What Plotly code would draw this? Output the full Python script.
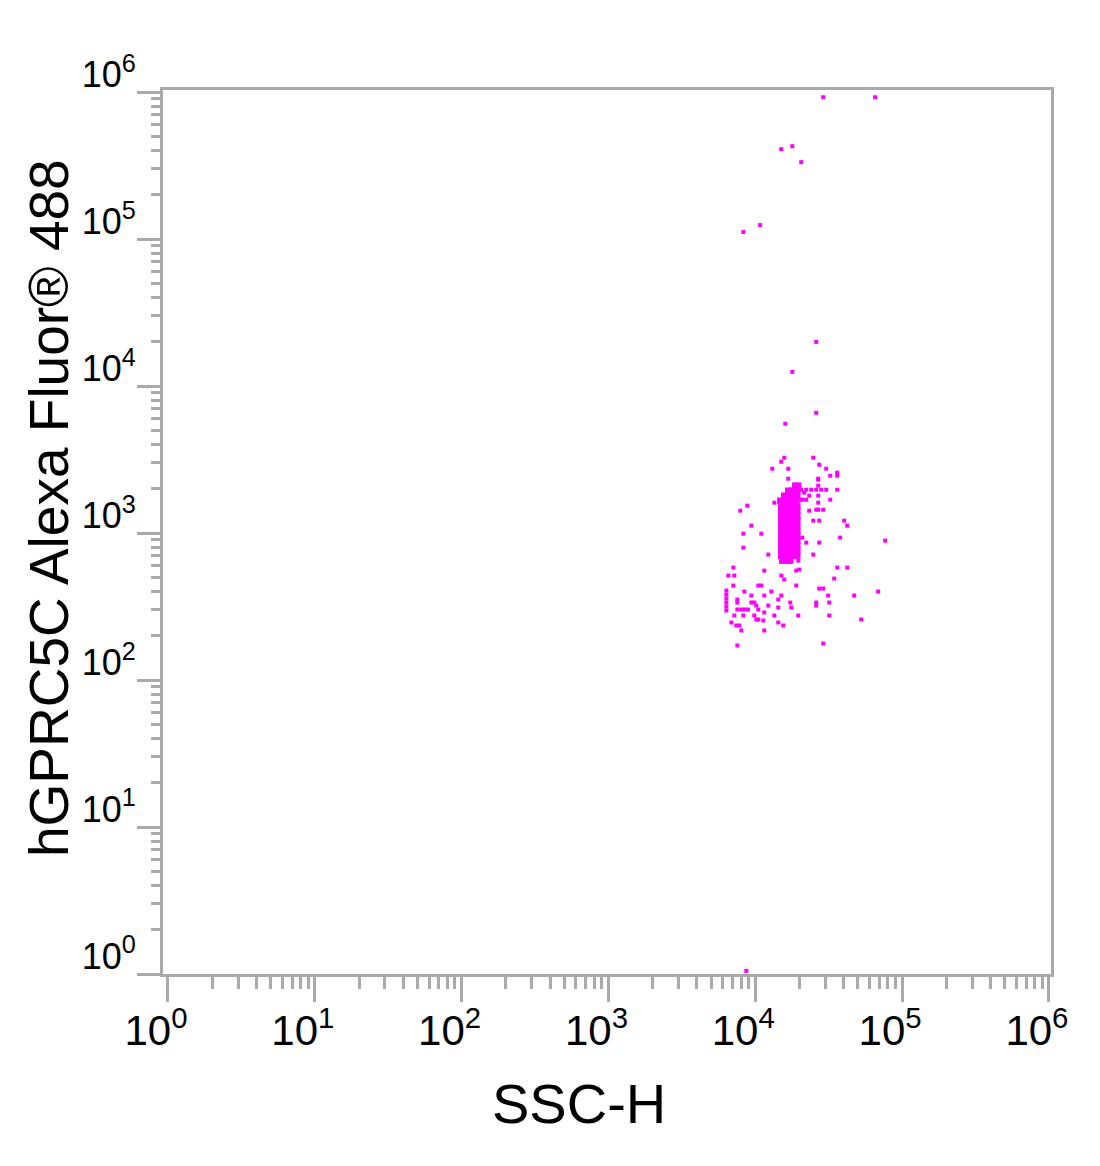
import plotly.graph_objects as go

# ---- scattered events (SSC-H, Alexa Fluor 488) ----
ssc_h = [
    29000, 65500, 15000, 17860, 20560, 10800, 8285,
    26000, 17860, 26000, 16000,
    15750, 15030, 24810, 13050, 16770, 27250, 30410, 32380, 36130, 36130,
    16770, 26830,
    20560, 22230, 24040, 26000, 28120, 30410,
    26830, 26830, 26830, 26830, 26830,
    36130, 32380, 21540, 23300, 20880, 20560, 22230,
    8822, 7907, 13470, 23300, 26000, 29020,
    9393, 10985, 8285, 8285, 12260, 24810, 27250, 40310, 42260,
    20880, 22230, 27250, 37860, 76640, 24810, 19620, 19930, 11515,
    36130, 42260, 7085, 6550, 7196, 15030, 15750, 19010, 34460,
    7085, 10480, 10985, 19010, 27250, 29020, 68660, 8418, 12850,
    6350, 6350, 6350, 6350, 6350, 6350,
    9393, 11515, 15030, 47160, 31380, 7545, 7545,
    9393, 9845, 10160, 14340, 17300, 26000, 26000, 31880,
    8030, 8418, 8920, 10480, 12260, 14340, 17580, 7545,
    11515, 13470, 19620, 31880, 52620, 9845, 10160, 7196, 8285,
    6866, 7784, 10480, 11330, 7426, 11515, 15500, 14340, 8030,
    7545, 29020, 8686,
]
fl488 = [
    921700, 921700, 408600, 428200, 333500, 124500, 111600,
    19970, 12490, 6575, 5537,
    3253, 3055, 3253, 2738, 2738, 2915, 2738, 2454, 2573, 2454,
    2342, 2342,
    1971, 1971, 1971, 1971, 1971, 1971,
    2306, 2099, 1795, 1609, 1442,
    1971, 1686, 1881, 1795, 1686, 1686, 1686,
    1535, 1419, 1609, 1419, 1442, 1442,
    1123, 990.6, 990.6, 795.6, 713.5, 1214, 1214, 1214, 1123,
    930.6, 860.5, 860.5, 930.6, 888, 713.5, 649.3, 564.1, 555.4,
    582.1, 582.1, 582.1, 513.5, 513.5, 513.5, 482.5, 555.4, 490,
    439.2, 439.2, 439.2, 439.2, 419.1, 419.1, 399.9, 399.9, 399.9,
    406, 381.6, 358.4, 336.6, 316.2, 297,
    375.6, 375.6, 375.6, 375.6, 375.6, 352.8, 336.6,
    336.6, 336.6, 321.3, 352.8, 336.6, 336.6, 321.3, 336.6,
    301.8, 301.8, 301.8, 301.8, 321.3, 311.4, 311.4, 301.8,
    288, 274.7, 274.7, 274.7, 258, 274.7, 258, 274.7, 274.7,
    246.3, 234.9, 258, 254.1, 234.9, 217.3, 234.9, 246.3, 217.3,
    171.8, 177.3, 1.05,
]

# ---- dense core of the population ----
core_ssc_h = [
    18720, 19620,
    16770, 17860, 19310,
    15750, 16770, 17860, 19310,
    14800, 15750, 16770, 17860, 19010,
    15030, 16000, 17030, 18130, 19310,
    15030, 16000, 17030, 18130, 19310,
    15030, 16000, 17030, 18130, 19310,
    15030, 16000, 17030, 18130, 19310,
    15030, 16000, 17030, 18130, 19310,
    15030, 16000, 17030, 18130, 19310,
    15030, 16000, 17030, 18130, 19310,
    15030, 16000, 17030, 18130, 19310,
    15030, 16000, 17030, 18130, 19310,
    15030, 16000, 17030, 18130, 19310,
    15030, 16000, 17030, 18130, 19310,
    15270, 16250, 17300,
]
core_fl488 = [
    2099, 2099,
    1941, 1941, 1941,
    1795, 1795, 1795, 1795,
    1660, 1660, 1660, 1660, 1660,
    1535, 1535, 1535, 1535, 1535,
    1419, 1419, 1419, 1419, 1419,
    1313, 1313, 1313, 1313, 1313,
    1214, 1214, 1214, 1214, 1214,
    1123, 1123, 1123, 1123, 1123,
    1038, 1038, 1038, 1038, 1038,
    960, 960, 960, 960, 960,
    888, 888, 888, 888, 888,
    821, 821, 821, 821, 821,
    759, 759, 759, 759, 759,
    702, 702, 702, 702, 702,
    649, 649, 649,
]

# ---- axes ----
decades = [1, 10, 100, 1000, 10000, 100000, 1000000]
tick_labels = ["10<sup>0</sup>", "10<sup>1</sup>", "10<sup>2</sup>", "10<sup>3</sup>",
               "10<sup>4</sup>", "10<sup>5</sup>", "10<sup>6</sup>"]
minor_vals = [m * d for d in decades[:-1] for m in range(2, 10)]

AX = "#aaaaaa"
MAG = "#ff00ff"
FONT = "Liberation Sans, Arial, sans-serif"

fig = go.Figure()
fig.add_trace(go.Scatter(
    x=ssc_h, y=fl488, mode="markers",
    marker=dict(symbol="square", size=4, color=MAG, line=dict(width=0)),
    showlegend=False, hoverinfo="skip"))
fig.add_trace(go.Scatter(
    x=core_ssc_h, y=core_fl488, mode="markers",
    marker=dict(symbol="square", size=6.5, color=MAG, line=dict(width=0)),
    showlegend=False, hoverinfo="skip"))

fig.update_xaxes(
    type="log", range=[-0.034, 6.014],
    tickvals=decades, ticktext=tick_labels,
    ticks="outside", ticklen=25, tickwidth=3, tickcolor=AX,
    minor=dict(tickvals=minor_vals, ticks="outside", ticklen=12, tickwidth=2.5, tickcolor=AX, showgrid=False),
    showline=True, linecolor=AX, linewidth=3, mirror=True,
    showgrid=False, zeroline=False,
    tickfont=dict(family=FONT, size=42, color="#000000"),
    ticklabelshift=-12, ticklabelstandoff=-7,
)
fig.update_yaxes(
    type="log", range=[0, 6.014],
    tickvals=decades, ticktext=tick_labels,
    ticks="outside", ticklen=23, tickwidth=3, tickcolor=AX,
    minor=dict(tickvals=minor_vals, ticks="outside", ticklen=9, tickwidth=2.5, tickcolor=AX, showgrid=False),
    showline=True, linecolor=AX, linewidth=3, mirror=True,
    showgrid=False, zeroline=False,
    tickfont=dict(family=FONT, size=36, color="#000000"),
    ticklabelshift=-18, ticklabelstandoff=-6,
)

fig.add_annotation(
    text="SSC-H", xref="paper", yref="paper", x=0.4685, y=-0.147,
    xanchor="center", yanchor="middle", showarrow=False,
    font=dict(family=FONT, size=56, color="#000000"))
fig.add_annotation(
    text="hGPRC5C Alexa Fluor® 488", xref="paper", yref="paper", x=-0.1284, y=0.527,
    xanchor="center", yanchor="middle", textangle=-90, showarrow=False,
    font=dict(family=FONT, size=55, color="#000000"))

fig.update_layout(
    width=1100, height=1166,
    margin=dict(l=155, r=57, t=82, b=200),
    paper_bgcolor="white", plot_bgcolor="white",
)

fig.write_html("out.html")
